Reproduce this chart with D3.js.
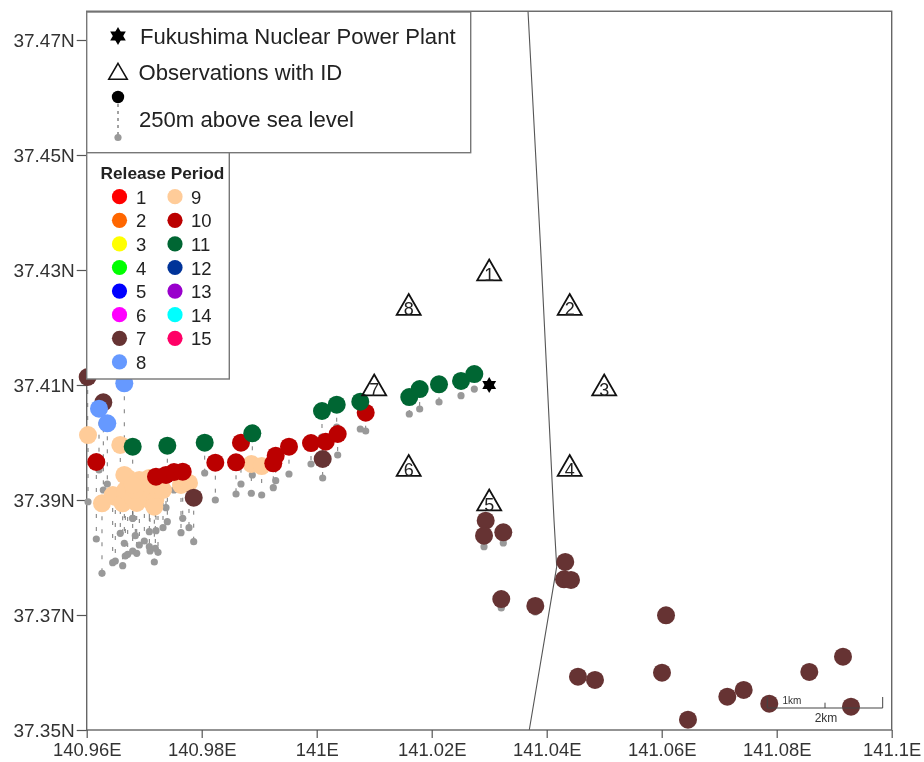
<!DOCTYPE html>
<html>
<head>
<meta charset="utf-8">
<script src="https://cdn.jsdelivr.net/npm/d3@7"></script>
<style>
  html, body { margin: 0; padding: 0; background: #fff; }
  svg { display: block; filter: blur(0.6px); font-family: "Liberation Sans", Arial, sans-serif; }
  .axis text { fill: #333; }
  .axis path, .axis line { stroke: #555; stroke-width: 1.2; }
  .xaxis text { font-size: 18.4px; }
  .yaxis text { font-size: 19px; }
</style>
</head>
<body>
<div id="chart"></div>
<script>
// tick values and labels
var xTicks = [140.96, 140.98, 141, 141.02, 141.04, 141.06, 141.08, 141.1];
var xLabels = ["140.96E", "140.98E", "141E", "141.02E", "141.04E", "141.06E", "141.08E", "141.1E"];
var yTicks = [37.35, 37.37, 37.39, 37.41, 37.43, 37.45, 37.47];
var yLabels = ["37.35N", "37.37N", "37.39N", "37.41N", "37.43N", "37.45N", "37.47N"];

// each row is lon, lat of the release, lat of the 250m ground dot
var period7 = [
  [140.96017, 37.41139, 37.4013], [140.96289, 37.40699, 37.39174], [140.97861, 37.3904, 37.38275],
  [141.00104, 37.39713, 37.39383], [141.02939, 37.3864, 37.3853], [141.0291, 37.38379, 37.38188],
  [141.03245, 37.38438, 37.38252], [141.0321, 37.37278, 37.37122], [141.03802, 37.37157, 37.37052],
  [141.04323, 37.37922, 37.3785], [141.04301, 37.37621, 37.3757], [141.04423, 37.37609, 37.3756],
  [141.04544, 37.35927, 37.3588], [141.0484, 37.3587, 37.3583], [141.06075, 37.36995, 37.3695],
  [141.06005, 37.35997, 37.3595], [141.06457, 37.35179, 37.3514], [141.07141, 37.35579, 37.3554],
  [141.07426, 37.35696, 37.3565], [141.07871, 37.35457, 37.3542], [141.08567, 37.36009, 37.3597],
  [141.09153, 37.36275, 37.3623], [141.09292, 37.35405, 37.3536]
];
var period8 = [
  [140.96214, 37.40588, 37.39522], [140.96358, 37.40334, 37.39278], [140.96654, 37.4103, 37.39957]
];
var period9 = [
  [140.96023, 37.4013, 37.3897], [140.96584, 37.39957, 37.38421], [140.98863, 37.39626, 37.39117],
  [140.99043, 37.39591, 37.39087], [140.9764, 37.39261, 37.38431], [140.97779, 37.39296, 37.38518],
  [140.96266, 37.38943, 37.37725], [140.96452, 37.39087, 37.3791], [140.96497, 37.39052, 37.37939],
  [140.96626, 37.38943, 37.37857], [140.96671, 37.39174, 37.38026], [140.96713, 37.39383, 37.38056],
  [140.96654, 37.39435, 37.38247], [140.968, 37.39035, 37.38113], [140.9687, 37.38948, 37.38073],
  [140.96915, 37.39348, 37.38217], [140.97002, 37.39209, 37.38287], [140.97089, 37.39, 37.38188],
  [140.97101, 37.39139, 37.38113], [140.97193, 37.39, 37.3816], [140.97176, 37.38883, 37.37922],
  [140.9724, 37.39174, 37.3809], [140.96845, 37.39174, 37.38379], [140.97089, 37.39383, 37.38449],
  [140.968, 37.39261, 37.38682], [140.97327, 37.39174, 37.38518]
];
var period10 = [
  [140.96167, 37.39661, 37.38322], [140.97205, 37.39405, 37.38466], [140.97379, 37.39435, 37.38866],
  [140.97518, 37.39487, 37.39174], [140.9767, 37.39492, 37.38682], [140.98237, 37.39649, 37.39],
  [140.98597, 37.39656, 37.39104], [140.98683, 37.39997, 37.39278], [140.99245, 37.39638, 37.39214],
  [140.99287, 37.3977, 37.39336], [140.99518, 37.39927, 37.39452], [140.99901, 37.39991, 37.39626],
  [141.00157, 37.40014, 37.3973], [141.00365, 37.40148, 37.39783], [141.00852, 37.40518, 37.402]
];
var period11 = [
  [140.968, 37.39927, 37.38682], [140.97402, 37.39944, 37.38623], [140.98052, 37.39997, 37.3947],
  [140.9888, 37.4016, 37.39435], [141.00092, 37.40548, 37.40096], [141.00348, 37.40657, 37.4027],
  [141.00758, 37.4071, 37.40235], [141.0161, 37.40791, 37.40496], [141.01791, 37.4093, 37.40583],
  [141.02127, 37.41012, 37.40704], [141.0251, 37.4107, 37.40814], [141.02741, 37.41191, 37.4093]
];

var periodColors = ["#ff0000", "#ff6600", "#ffff00", "#00ff00", "#0000ff", "#ff00ff", "#663333", "#6699ff",
  "#ffcc99", "#bb0000", "#006633", "#003399", "#9900cc", "#00ffff", "#ff0066"];

// observation sites, index + 1 is the ID
var obsLon = [141.03, 141.044, 141.05, 141.044, 141.03, 141.016, 141.01, 141.016];
var obsLat = [37.43, 37.424, 37.41, 37.396, 37.39, 37.396, 37.41, 37.424];
var plant = [141.03, 37.41];

var coastLon = [141.03675, 141.03896, 141.04127, 141.04174, 141.03697];
var coastLat = [37.475, 37.43348, 37.38652, 37.3784, 37.35];

var width = 924;
var height = 762;

var x = d3.scaleLinear().domain([140.96, 141.1]).range([86.7, 891.7]);
var y = d3.scaleLinear().domain([37.35, 37.475]).range([730, 11.25]);

var svg = d3.select("#chart").append("svg")
  .attr("width", width)
  .attr("height", height);

// coastline
svg.append("path")
  .attr("d", d3.line().x(d => x(d[0])).y(d => y(d[1]))(d3.zip(coastLon, coastLat)))
  .attr("fill", "none")
  .attr("stroke", "#555")
  .attr("stroke-width", 1.1);

// frame
svg.append("rect")
  .attr("x", x.range()[0])
  .attr("y", y.range()[1])
  .attr("width", x.range()[1] - x.range()[0])
  .attr("height", y.range()[0] - y.range()[1])
  .attr("fill", "none")
  .attr("stroke", "#666")
  .attr("stroke-width", 1.4);

// axes
var xAxis = d3.axisBottom(x).tickValues(xTicks).tickSize(8).tickPadding(5)
  .tickFormat((d, i) => xLabels[i]);
svg.append("g").attr("class", "axis xaxis")
  .attr("transform", "translate(0," + y.range()[0] + ")")
  .call(xAxis)
  .call(g => g.select(".domain").remove());

var yAxis = d3.axisLeft(y).tickValues(yTicks).tickSize(10).tickPadding(2)
  .tickFormat((d, i) => yLabels[i]);
svg.append("g").attr("class", "axis yaxis")
  .attr("transform", "translate(" + x.range()[0] + ",0)")
  .call(yAxis)
  .call(g => g.select(".domain").remove());

// draw order follows the overlaps in the figure
var layers = [
  {period: 9, rows: period9},
  {period: 10, rows: period10},
  {period: 11, rows: period11},
  {period: 7, rows: period7},
  {period: 8, rows: period8}
];

var allRows = layers.flatMap(l => l.rows);

// dashed drop lines and grey ground dots go first
svg.append("g").selectAll("line")
  .data(allRows)
  .enter()
  .append("line")
  .attr("x1", d => x(d[0]))
  .attr("x2", d => x(d[0]))
  .attr("y1", d => y(d[1]))
  .attr("y2", d => y(d[2]))
  .attr("stroke", "#777")
  .attr("stroke-width", 1)
  .attr("stroke-dasharray", "4,9");

svg.append("g").selectAll("circle")
  .data(allRows)
  .enter()
  .append("circle")
  .attr("cx", d => x(d[0]))
  .attr("cy", d => y(d[2]))
  .attr("r", 3.6)
  .attr("fill", "#999");

layers.forEach(function(l) {
  svg.append("g").selectAll("circle")
    .data(l.rows)
    .enter()
    .append("circle")
    .attr("cx", d => x(d[0]))
    .attr("cy", d => y(d[1]))
    .attr("r", 9)
    .attr("fill", periodColors[l.period - 1]);
});

// d3 centres the triangle on its centroid, the figure on the box
function triangle(size) {
  return d3.symbol().type(d3.symbolTriangle).size(size)();
}

function addStar(cx, cy, size) {
  svg.append("path").attr("d", triangle(size)).attr("transform", "translate(" + cx + "," + cy + ")");
  svg.append("path").attr("d", triangle(size)).attr("transform", "translate(" + cx + "," + cy + ") rotate(180)");
}

// observation triangles
var obs = svg.append("g").selectAll("g")
  .data(obsLon.map((d, i) => ({lon: d, lat: obsLat[i], id: i + 1})))
  .enter()
  .append("g")
  .attr("transform", d => "translate(" + x(d.lon) + "," + y(d.lat) + ")");

obs.append("path")
  .attr("d", triangle(249))
  .attr("transform", "translate(0,3.4)")
  .attr("fill", "none")
  .attr("stroke", "#111")
  .attr("stroke-width", 1.8);

obs.append("text")
  .attr("y", 10.5)
  .attr("text-anchor", "middle")
  .attr("font-size", 18)
  .attr("fill", "#222")
  .text(d => d.id);

addStar(x(plant[0]), y(plant[1]), 83);

// scale bar
var barLon = [141.07837, 141.0884, 141.09843];
var barLat = 37.35383;
var barTop = [37.35574, 37.35475, 37.35574];
svg.append("line")
  .attr("x1", x(barLon[0])).attr("x2", x(barLon[2]))
  .attr("y1", y(barLat)).attr("y2", y(barLat))
  .attr("stroke", "#444").attr("stroke-width", 1.2);
barLon.forEach(function(d, i) {
  svg.append("line")
    .attr("x1", x(d)).attr("x2", x(d))
    .attr("y1", y(barLat)).attr("y2", y(barTop[i]))
    .attr("stroke", "#444").attr("stroke-width", 1);
});
svg.append("text").attr("x", 792).attr("y", 704).attr("text-anchor", "middle")
  .attr("font-size", 10).attr("fill", "#333").text("1km");
svg.append("text").attr("x", 826).attr("y", 722).attr("text-anchor", "middle")
  .attr("font-size", 12).attr("fill", "#333").text("2km");

// top legend
svg.append("rect")
  .attr("x", 86.7).attr("y", 12).attr("width", 384).attr("height", 140.7)
  .attr("fill", "#fff").attr("stroke", "#777").attr("stroke-width", 1.4);

addStar(118, 36, 105);

svg.append("path")
  .attr("d", triangle(150))
  .attr("transform", "translate(118,74)")
  .attr("fill", "none")
  .attr("stroke", "#111")
  .attr("stroke-width", 1.5);

svg.append("line")
  .attr("x1", 118).attr("x2", 118).attr("y1", 97).attr("y2", 137)
  .attr("stroke", "#444").attr("stroke-dasharray", "3,4");
svg.append("circle").attr("cx", 118).attr("cy", 97).attr("r", 6.2).attr("fill", "#000");
svg.append("circle").attr("cx", 118).attr("cy", 137.5).attr("r", 3.6).attr("fill", "#999");

var legendText = [
  {label: "Fukushima Nuclear Power Plant", tx: 140, ty: 44},
  {label: "Observations with ID", tx: 138.5, ty: 79.5},
  {label: "250m above sea level", tx: 139, ty: 126.5}
];
svg.append("g").selectAll("text")
  .data(legendText)
  .enter()
  .append("text")
  .attr("x", d => d.tx)
  .attr("y", d => d.ty)
  .attr("font-size", 22.1)
  .attr("fill", "#222")
  .text(d => d.label);

// release period legend
svg.append("rect")
  .attr("x", 86.7).attr("y", 152.7).attr("width", 142.6).attr("height", 226.3)
  .attr("fill", "#fff").attr("stroke", "#777").attr("stroke-width", 1.4);

svg.append("text")
  .attr("x", 100.5).attr("y", 178.5)
  .attr("font-size", 17.3)
  .attr("font-weight", "bold")
  .attr("fill", "#222")
  .text("Release Period");

var legend = svg.append("g").selectAll("g")
  .data(periodColors)
  .enter()
  .append("g")
  .attr("transform", (d, i) => "translate(" + (i < 8 ? 119.5 : 175) + "," + (196.7 + (i < 8 ? i : i - 8) * 23.6) + ")");

legend.append("circle").attr("r", 7.6).attr("fill", d => d);
legend.append("text")
  .attr("x", (d, i) => i < 8 ? 16.5 : 16)
  .attr("y", 7)
  .attr("font-size", 18.5)
  .attr("fill", "#222")
  .text((d, i) => i + 1);
</script>
</body>
</html>
